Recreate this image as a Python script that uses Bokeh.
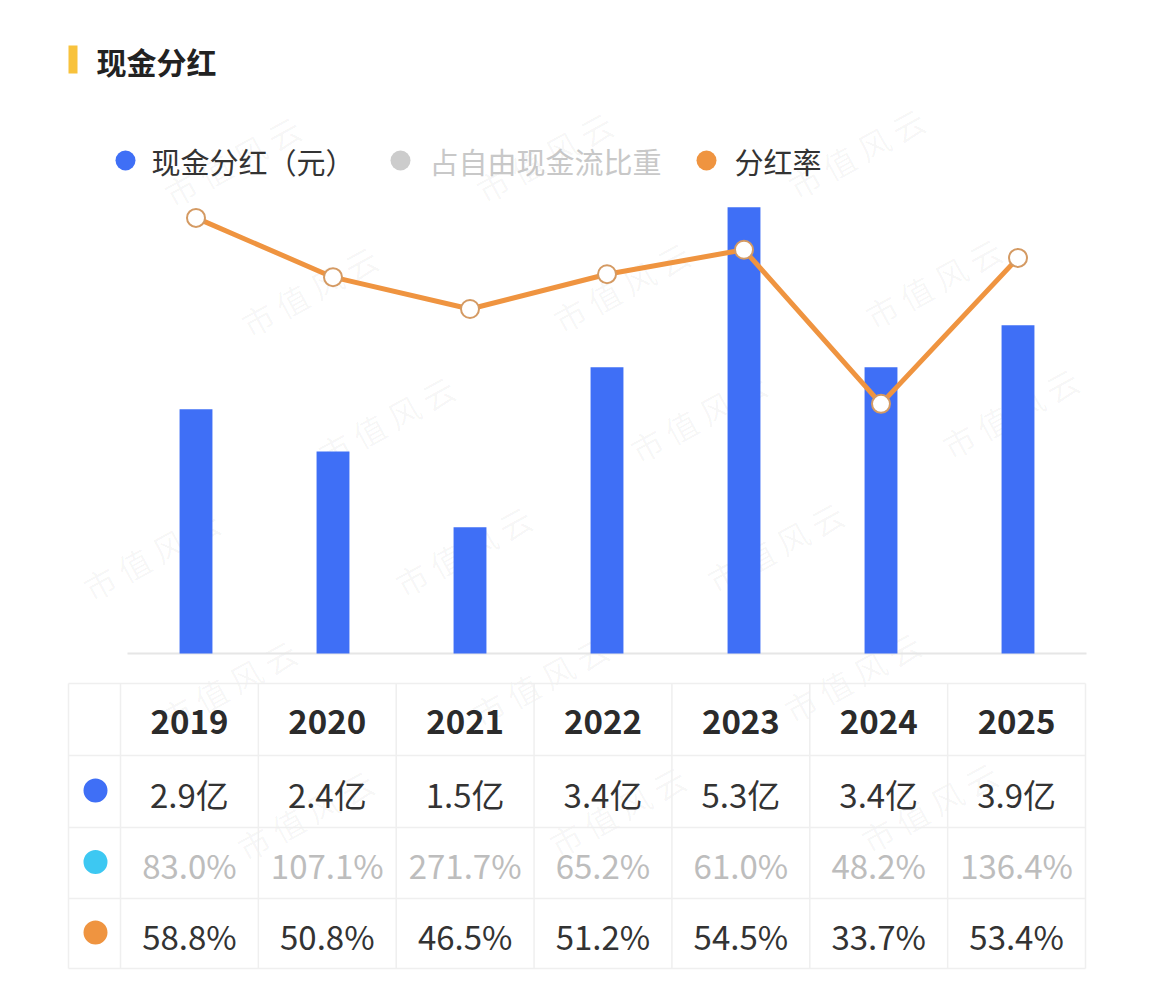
from bokeh.plotting import figure
from bokeh.models import Range1d, ColumnDataSource
from bokeh.core.properties import value
from bokeh.embed import file_html
from bokeh.resources import INLINE

# ---- data ----
years = ["2019", "2020", "2021", "2022", "2023", "2024", "2025"]
dividend_yi = [2.9, 2.4, 1.5, 3.4, 5.3, 3.4, 3.9]          # 现金分红（亿元）
fcf_share_pct = [83.0, 107.1, 271.7, 65.2, 61.0, 48.2, 136.4]  # 占自由现金流比重
payout_pct = [58.8, 50.8, 46.5, 51.2, 54.5, 33.7, 53.4]     # 分红率

title_text = "现金分红"
legend_labels = ["现金分红（元）", "占自由现金流比重", "分红率"]
watermark_text = "市 值 风 云"

# ---- layout (pixels, origin top-left) ----
W, H = 1153, 992
FONT = "Noto Sans CJK SC"
BLUE = "#3F6FF6"
ORANGE = "#EF9440"
CYAN = "#3DC8F2"
GRAY = "#CCCCCC"

PLOT_LEFT, PLOT_RIGHT = 127, 1086
PLOT_TOP, BASELINE = 190, 653
AMT_MAX = 5.5
PCT_MAX = 62.5

TABLE_LEFT, TABLE_RIGHT = 68, 1085
FIRST_COL_RIGHT = 120
ROW_EDGES = [683, 755, 827, 898, 968]

n = len(years)
slot = (PLOT_RIGHT - PLOT_LEFT) / n
k_amt = (BASELINE - PLOT_TOP) / AMT_MAX
k_pct = (BASELINE - PLOT_TOP) / PCT_MAX

p = figure(width=W, height=H, x_range=Range1d(0, W), y_range=Range1d(H, 0),
           x_axis_type=None, y_axis_type=None, min_border=0,
           output_backend="svg", toolbar_location=None)
p.grid.visible = False
p.outline_line_color = None
p.background_fill_color = "white"
p.border_fill_color = "white"

# value scales for the chart area
p.extra_x_ranges = {"idx": Range1d(-PLOT_LEFT / slot - 0.5, (W - PLOT_LEFT) / slot - 0.5)}
p.extra_y_ranges = {
    "amt": Range1d((BASELINE - H) / k_amt, BASELINE / k_amt),
    "pct": Range1d((BASELINE - H) / k_pct, BASELINE / k_pct),
}

# ---- watermark (tiled, only whole stamps) ----
wx, wy = [], []
for j in range(-3, 8):
    for i in range(-2, 6):
        x = 23 + 312 * i + 77 * j - 15
        y = 460 - 4 * i + 130 * j
        if x >= 24 and x + 150 <= W - 4 and y - 85 >= 4 and y + 22 <= H - 4:
            wx.append(x)
            wy.append(y)
p.text(x=wx, y=wy, text=[watermark_text] * len(wx), angle=0.5,
       text_font=value(FONT), text_font_size="32px", text_color="#000000",
       text_alpha=0.04, text_align="left", text_baseline="middle")

# ---- title ----
p.quad(left=[68], right=[77], top=[45], bottom=[73], fill_color="#F8C23C", line_color=None)
p.text(x=[96], y=[60], text=[title_text], text_font=value(FONT), text_font_size="30px",
       text_font_style="bold", text_color="#222222", text_baseline="middle")

# ---- legend ----
leg_dot_x = [125, 400, 706]
leg_txt_x = [151, 429, 734]
p.scatter(x=leg_dot_x, y=[160] * 3, size=20, marker="circle",
          fill_color=[BLUE, GRAY, ORANGE], line_color=None)
p.text(x=leg_txt_x, y=[160] * 3, text=legend_labels, text_font=value(FONT),
       text_font_size="29px", text_color=["#333333", "#C8C8C8", "#333333"],
       text_baseline="middle")

# ---- chart ----
idx = list(range(n))
src = ColumnDataSource(dict(i=idx, amt=dividend_yi, pct=payout_pct))
p.segment(x0=[-0.5], x1=[n - 0.5], y0=[0], y1=[0], line_color="#E6E6E6", line_width=2,
          x_range_name="idx", y_range_name="amt")
p.vbar(x="i", top="amt", bottom=0, width=0.24, fill_color=BLUE, line_color=None,
       source=src, x_range_name="idx", y_range_name="amt")
p.line(x="i", y="pct", line_color=ORANGE, line_width=5, source=src,
       x_range_name="idx", y_range_name="pct")
p.scatter(x="i", y="pct", size=18, marker="circle", fill_color="white",
          line_color="#D49A63", line_width=2, source=src,
          x_range_name="idx", y_range_name="pct")

# ---- table ----
GRID = "#EFEFEF"
col_w = (TABLE_RIGHT - FIRST_COL_RIGHT) / n
v_edges = [TABLE_LEFT, FIRST_COL_RIGHT] + [FIRST_COL_RIGHT + col_w * (c + 1) for c in range(n)]
p.segment(x0=v_edges, x1=v_edges, y0=[ROW_EDGES[0]] * len(v_edges),
          y1=[ROW_EDGES[-1]] * len(v_edges), line_color=GRID, line_width=1.5)
p.segment(x0=[TABLE_LEFT] * len(ROW_EDGES), x1=[TABLE_RIGHT] * len(ROW_EDGES),
          y0=ROW_EDGES, y1=ROW_EDGES, line_color=GRID, line_width=1.5)

col_x = [FIRST_COL_RIGHT + col_w * (c + 0.5) for c in range(n)]
row_y = [(ROW_EDGES[r] + ROW_EDGES[r + 1]) / 2 + 2 for r in range(4)]

p.text(x=col_x, y=[row_y[0]] * n, text=years, text_font=value(FONT),
       text_font_size="33px", text_font_style="bold", text_color="#2B2B2B",
       text_align="center", text_baseline="middle")
p.text(x=col_x, y=[row_y[1]] * n, text=[f"{v:.1f}亿" for v in dividend_yi],
       text_font=value(FONT), text_font_size="33px", text_color="#333333",
       text_align="center", text_baseline="middle")
p.text(x=col_x, y=[row_y[2]] * n, text=[f"{v:.1f}%" for v in fcf_share_pct],
       text_font=value(FONT), text_font_size="33px", text_color="#BDBDBD",
       text_align="center", text_baseline="middle")
p.text(x=col_x, y=[row_y[3]] * n, text=[f"{v:.1f}%" for v in payout_pct],
       text_font=value(FONT), text_font_size="33px", text_color="#333333",
       text_align="center", text_baseline="middle")

dot_x = (TABLE_LEFT + FIRST_COL_RIGHT) / 2 + 1
p.scatter(x=[dot_x] * 3, y=[r - 3 for r in row_y[1:]], size=24, marker="circle",
          fill_color=[BLUE, CYAN, ORANGE], line_color=None)

open("out.html", "w").write(file_html(p, INLINE))
